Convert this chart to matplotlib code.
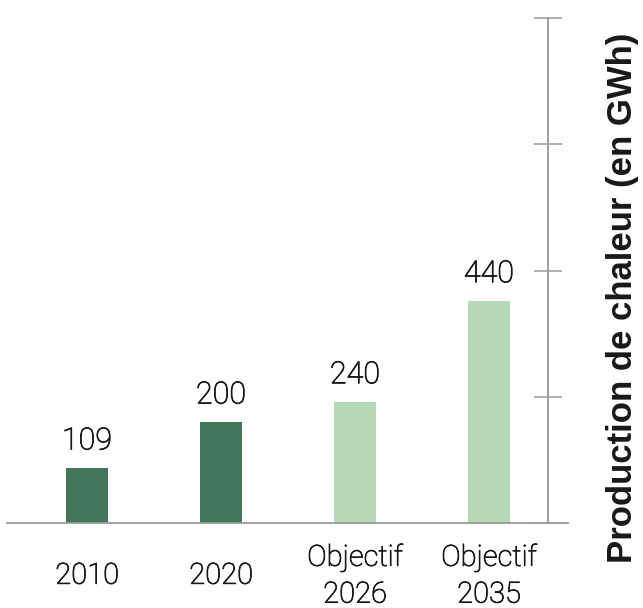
import numpy as np
import matplotlib.pyplot as plt
import matplotlib.patheffects as pe

# ---------------- data ----------------
categories = ["2010", "2020", "Objectif\n2026", "Objectif\n2035"]
values = [109, 200, 240, 440]
is_target = [False, False, True, True]

dark_green = "#43755a"
light_green = "#b5d8b6"
axis_grey = "#9a9a9a"
text_col = "#1a1718"

# light font, slightly thickened to match the print weight
thicken = [pe.withStroke(linewidth=0.6, foreground=text_col)]

fig = plt.figure(figsize=(6.43, 6.08), dpi=100)
ax = fig.add_axes([7 / 643, 1 - 523 / 608, (568 - 7) / 643, (523 - 18) / 608])

x = np.arange(len(categories))
colors = [light_green if t else dark_green for t in is_target]
bars = ax.bar(x, values, width=0.31, color=colors, zorder=2)

for xi, v in zip(x, values):
    ax.annotate(str(v), (xi, v), xytext=(0, 9), textcoords="offset points",
                ha="center", va="bottom", fontsize=22, color=text_col,
                family="Roboto", fontweight="light", path_effects=thicken)

ax.set_xlim(-0.597, 3.59)
ax.set_ylim(0, 1000)

# x categories
ax.set_xticks(x)
ax.set_xticklabels(categories, fontsize=21, color=text_col, family="Roboto",
                   fontweight="light", linespacing=1.4, va="center",
                   path_effects=thicken)
ax.tick_params(axis="x", length=0, pad=38)

# right axis, placed inside the bottom line
ax.spines["top"].set_visible(False)
ax.spines["left"].set_visible(False)
ax.spines["right"].set_position(("data", 3.44))
for s in ("right", "bottom"):
    ax.spines[s].set_color(axis_grey)
    ax.spines[s].set_linewidth(1.3)

ax.yaxis.tick_right()
ax.set_yticks([0, 250, 500, 750, 1000])
ax.tick_params(axis="y", direction="inout", length=20, width=1.1,
               color=axis_grey, labelright=False, labelleft=False)

fig.text(0.968, 0.51, "Production de chaleur (en GWh)", rotation=90,
         ha="center", va="center", fontsize=25, fontweight="bold",
         color=text_col, family="Liberation Sans")

fig.savefig("out.png", dpi=100)
